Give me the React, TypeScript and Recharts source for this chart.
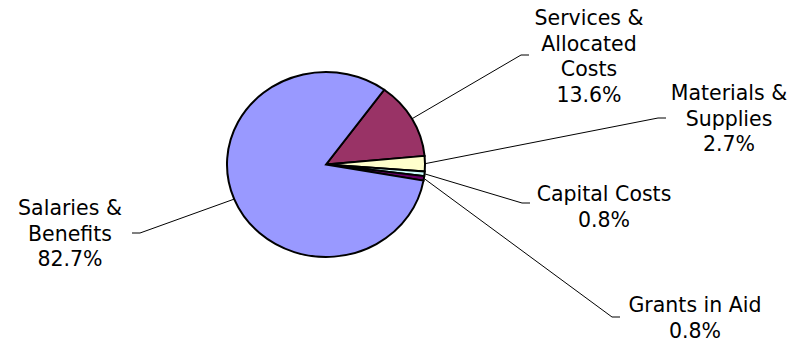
import { PieChart, Pie, Cell } from "recharts";

// Budget split by expense type (percent of total)
const categories = [
  "Services & Allocated Costs",
  "Materials & Supplies",
  "Capital Costs",
  "Grants in Aid",
  "Salaries & Benefits",
];
const shares = [13.6, 2.7, 0.8, 0.8, 82.7];
const labelLines = [
  ["Services &", "Allocated", "Costs"],
  ["Materials &", "Supplies"],
  ["Capital Costs"],
  ["Grants in Aid"],
  ["Salaries &", "Benefits"],
];
const colors = ["#993366", "#FFFFCC", "#CCFFFF", "#660066", "#9999FF"];

const data = categories.map((name, i) => ({ name, value: shares[i] }));

// where each callout sits: text centre x, first baseline, leader end point
const labelLayout = [
  { tx: 589, ty: 25, ax: 529, ay: 55, dir: 1 },
  { tx: 729, ty: 100, ax: 666, ay: 118, dir: 1 },
  { tx: 604, ty: 201, ax: 530, ay: 203, dir: 1 },
  { tx: 695, ty: 312, ax: 620, ay: 317, dir: 1 },
  { tx: 70, ty: 215, ax: 132, ay: 233, dir: -1 },
];

const W = 792;
const H = 344;
const CX = 326;
const CY = 164.5;
const R = 99;
const SY = 0.934; // pie is drawn slightly squashed vertically
const LINE_H = 25.5;
const FONT = "'DejaVu Sans', Verdana, sans-serif";
const NO_MARGIN = { top: 0, right: 0, bottom: 0, left: 0 };

const RAD = Math.PI / 180;

function renderCallout(props: any) {
  const { index, midAngle } = props;
  const lay = labelLayout[index];
  const sx = CX + R * Math.cos(midAngle * RAD);
  const sy = CY - R * SY * Math.sin(midAngle * RAD);
  const hx = lay.ax - lay.dir * 8;
  const lines = [...labelLines[index], `${shares[index].toFixed(1)}%`];
  return (
    <g key={`callout-${index}`}>
      <polyline
        points={`${sx},${sy} ${hx},${lay.ay} ${lay.ax},${lay.ay}`}
        fill="none"
        stroke="#000"
        strokeWidth={1}
      />
      <text
        x={lay.tx}
        y={lay.ty}
        textAnchor="middle"
        fontFamily={FONT}
        fontSize={20.5}
        fill="#000"
      >
        {lines.map((ln, j) => (
          <tspan key={j} x={lay.tx} dy={j === 0 ? 0 : LINE_H}>
            {ln}
          </tspan>
        ))}
      </text>
    </g>
  );
}

export default function App() {
  return (
    <div
      style={{
        position: "absolute",
        left: 0,
        top: 0,
        width: W,
        height: H,
        background: "#fff",
      }}
    >
      <div
        style={{
          position: "absolute",
          left: 0,
          top: 0,
          transform: `scaleY(${SY})`,
          transformOrigin: `${CX}px ${CY}px`,
        }}
      >
        <PieChart width={W} height={H} margin={NO_MARGIN}>
          <Pie
            data={data}
            dataKey="value"
            nameKey="name"
            cx={CX}
            cy={CY}
            outerRadius={R}
            startAngle={54}
            endAngle={-306}
            stroke="#000"
            strokeWidth={2}
            label={false}
            labelLine={false}
            isAnimationActive={false}
          >
            {data.map((d, i) => (
              <Cell key={d.name} fill={colors[i]} />
            ))}
          </Pie>
        </PieChart>
      </div>
      <div style={{ position: "absolute", left: 0, top: 0 }}>
        <PieChart width={W} height={H} margin={NO_MARGIN}>
          <Pie
            data={data}
            dataKey="value"
            nameKey="name"
            cx={CX}
            cy={CY}
            outerRadius={R}
            startAngle={54}
            endAngle={-306}
            fill="none"
            stroke="none"
            label={renderCallout}
            labelLine={false}
            isAnimationActive={false}
          >
            {data.map((d) => (
              <Cell key={d.name} fill="none" stroke="none" />
            ))}
          </Pie>
        </PieChart>
      </div>
    </div>
  );
}
